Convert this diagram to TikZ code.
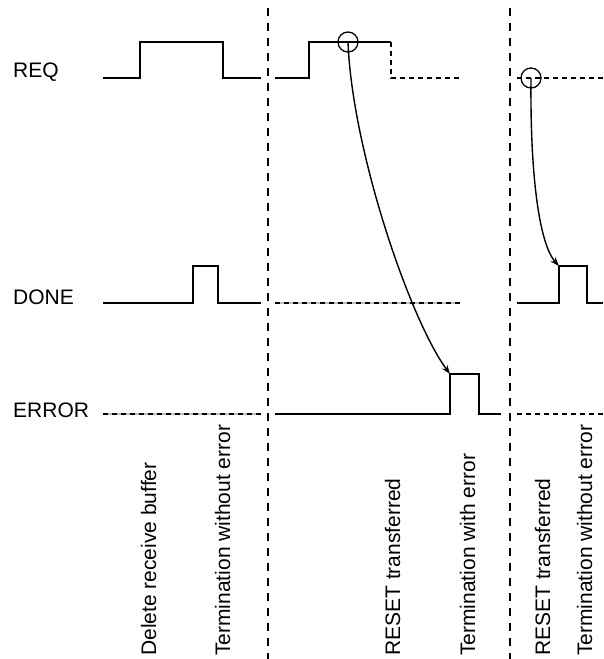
\documentclass[tikz,border=0pt]{standalone}
\usepackage{fontspec}
\setmainfont{Liberation Sans}
\usetikzlibrary{arrows.meta}
\begin{document}
\begin{tikzpicture}[x=1pt,y=-1pt,
  sig/.style={line width=1.8pt, line join=miter},
  sigdash/.style={line width=1.3pt, dash pattern=on 5pt off 4pt},
  greyline/.style={line width=1.8pt, black!25},
  divider/.style={line width=1.2pt, dash pattern=on 8pt off 7pt},
  lbl/.style={font=\fontsize{21}{25}\selectfont, inner sep=0pt},
  vlbl/.style={lbl, rotate=90, anchor=base west},
  ring/.style={circle, draw, minimum size=20pt, inner sep=0pt, line width=1.3pt},
  conn/.style={line width=1.4pt, -{Stealth[length=9pt,width=6.5pt]}}
]
\useasboundingbox (0,0) rectangle (603,659);

% dividers
\draw[divider] (268,8) -- (268,659);
\draw[divider] (510,8) -- (510,659);

% labels
\node[lbl, anchor=base west] (lreq) at (13,77) {REQ};
\node[lbl, anchor=base west] (ldone) at (13,304) {DONE};
\node[lbl, anchor=base west] (lerr) at (13,417) {ERROR};

% REQ
\draw[sig] (103,78) -- (140,78) -- (140,42) -- (223,42) -- (223,78) -- (261,78);
\draw[sig] (275,78) -- (309,78) -- (309,42) -- (391,42);
\draw[sigdash] (391,42) -- (391,78) -- (460,78);
\draw[sigdash] (517,78) -- (603,78);

% DONE
\draw[sig] (103,303) -- (193,303) -- (193,266) -- (218,266) -- (218,303) -- (261,303);
\draw[greyline] (275,303) -- (460,303);
\draw[sigdash] (275,303) -- (460,303);
\draw[sig] (517,303) -- (559,303) -- (559,266) -- (587,266) -- (587,303) -- (603,303);

% ERROR
\draw[greyline] (103,414) -- (261,414);
\draw[sigdash] (103,414) -- (261,414);
\draw[sig] (275,414) -- (450,414) -- (450,374) -- (479,374) -- (479,414) -- (501,414);
\draw[sigdash] (517,414) -- (603,414);

% rings and connectors
\node[ring] (r1) at (348,42) {};
\node[ring] (r2) at (531,78) {};
\coordinate (e1) at (450,374);
\coordinate (e2) at (559,266);
\draw[conn] (r1.center) .. controls (352,150) and (410,320) .. (e1);
\draw[conn] (r2.center) .. controls (530,180) and (540,245) .. (e2);

% vertical labels
\node[vlbl] (t1) at (156,656) {Delete receive buffer};
\node[vlbl] (t2) at (230,656) {Termination without error};
\node[vlbl] (t3) at (400,656) {RESET transferred};
\node[vlbl] (t4) at (475,656) {Termination with error};
\node[vlbl] (t5) at (550,656) {RESET transferred};
\node[vlbl] (t6) at (592,656) {Termination without error};
\end{tikzpicture}
\end{document}
